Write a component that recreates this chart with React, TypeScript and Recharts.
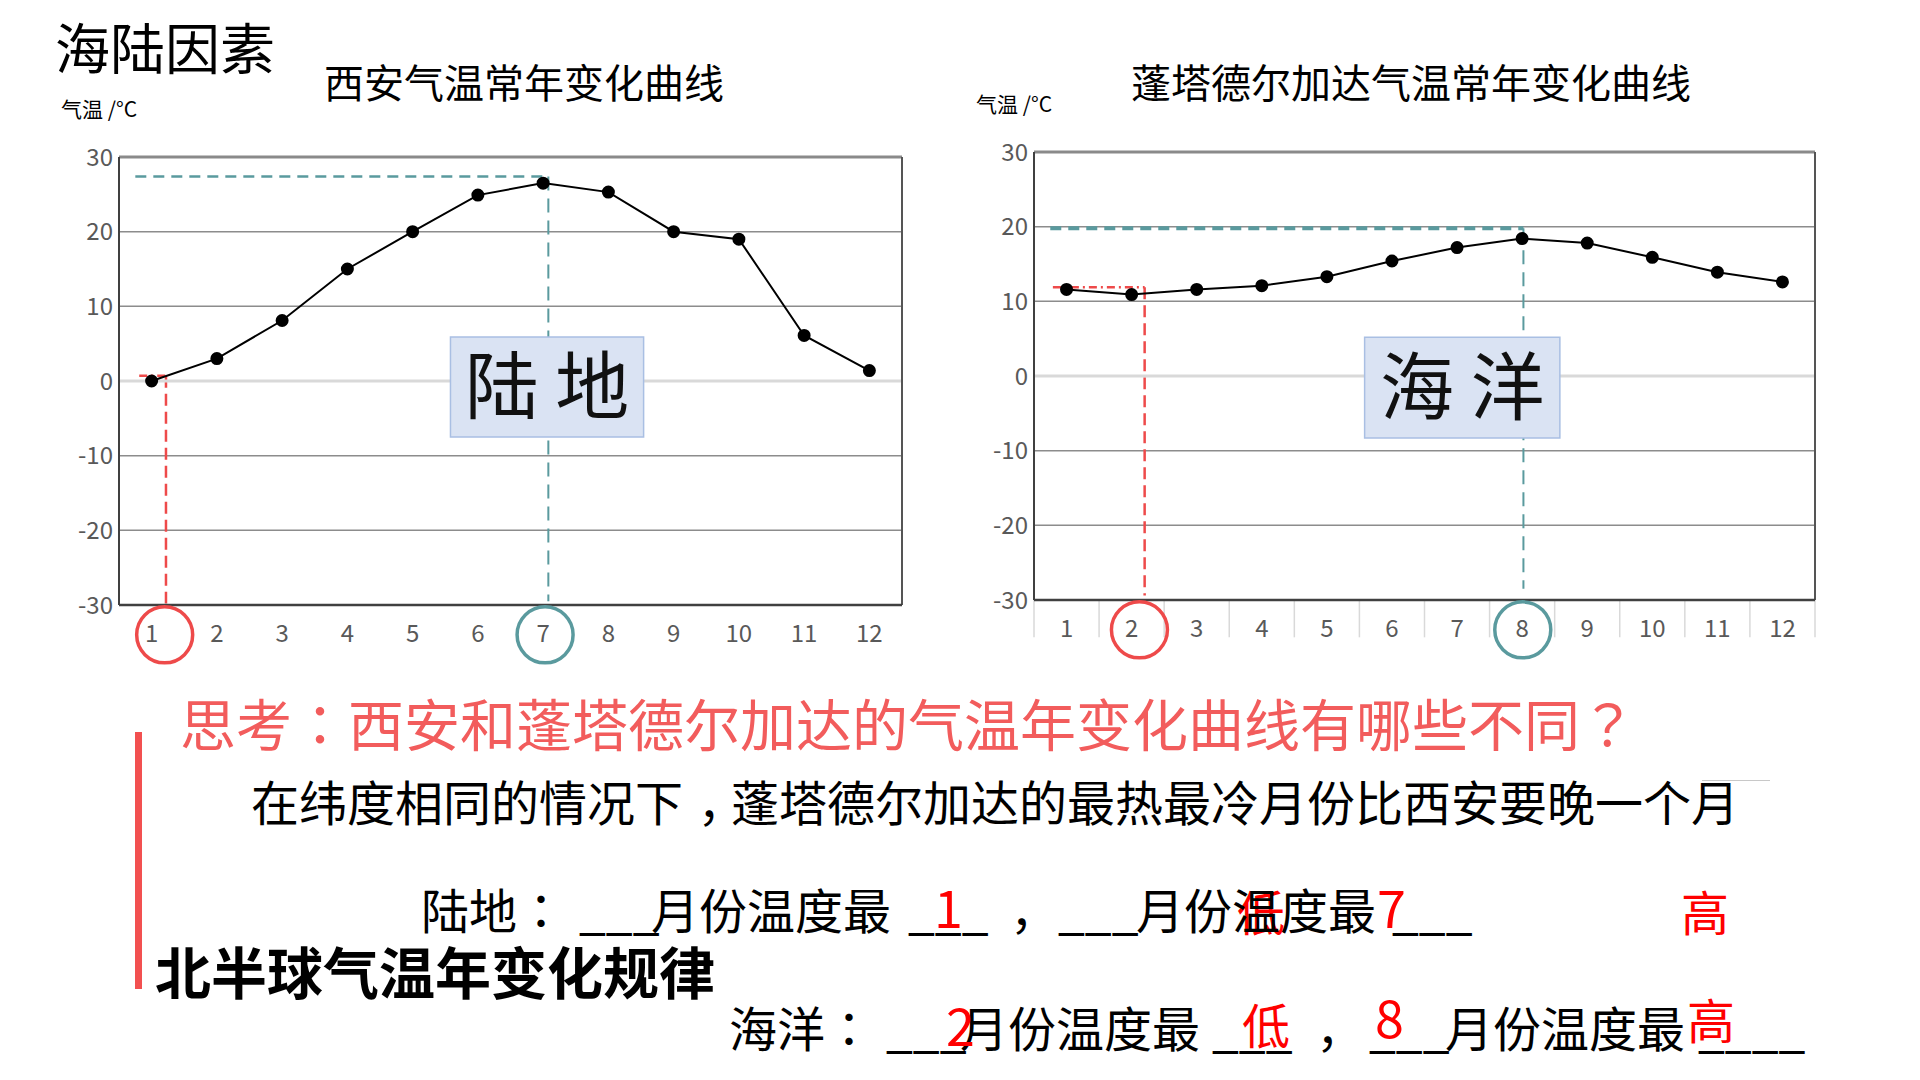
import React from 'react';
import {
  CartesianGrid,
  Line,
  LineChart,
  ReferenceArea,
  ReferenceDot,
  ReferenceLine,
  XAxis,
  YAxis,
} from 'recharts';

const FONT = '"Noto Sans CJK SC", "Noto Sans", sans-serif';
const PUNC_FONT = '"Noto Sans CJK TC", "Noto Sans CJK SC", sans-serif';

// monthly mean temperatures
const months = [1, 2, 3, 4, 5, 6, 7, 8, 9, 10, 11, 12];
const xianTemps = [0, 3, 8.1, 15, 20, 24.9, 26.5, 25.3, 20, 19, 6.1, 1.4];
const pontaTemps = [11.6, 10.9, 11.6, 12.1, 13.3, 15.4, 17.2, 18.4, 17.8, 15.9, 13.9, 12.6];
const tempTicks = [-30, -20, -10, 0, 10, 20, 30];
const monthEdges = [0.5, 1.5, 2.5, 3.5, 4.5, 5.5, 6.5, 7.5, 8.5, 9.5, 10.5, 11.5, 12.5];

const TEAL = '#5a9a9e';
const RED = '#ee4a4a';

interface Guide {
  month: number;
  temp: number;
  from: number;
  bottom: number;
}

interface ChartProps {
  temps: number[];
  hot: Guide;
  cold: Guide;
  hotCircle: number;
  coldCircle: number;
  label: string;
  box: { x1: number; x2: number; y1: number; y2: number };
  separators: boolean;
  margin: { top: number; right: number; bottom: number; left: number };
  hotWidth: number;
}

function TempChart({ temps, hot, cold, hotCircle, coldCircle, label, box, separators, margin, hotWidth }: ChartProps) {
  const data = months.map((m, i) => ({ month: m, temp: temps[i] }));
  return (
    <LineChart width={960} height={700} data={data} margin={margin}>
      <CartesianGrid vertical={false} stroke="#8c8c8c" strokeWidth={1.5} />
      <ReferenceLine y={0} stroke="#d9d9d9" strokeWidth={3} />
      <ReferenceLine y={30} stroke="#8a8a8a" strokeWidth={3} />
      <ReferenceLine x={12.5} stroke="#555" strokeWidth={2} />
      {separators &&
        monthEdges.map((e) => (
          <ReferenceLine
            key={e}
            segment={[{ x: e, y: -30 }, { x: e, y: -35 }]}
            stroke="#d9d9d9"
            strokeWidth={1.5}
            ifOverflow="visible"
          />
        ))}
      <XAxis
        type="number"
        dataKey="month"
        domain={[0.5, 12.5]}
        ticks={months}
        allowDataOverflow
        height={40}
        tickLine={false}
        tickSize={6}
        tickMargin={14}
        axisLine={{ stroke: '#404040', strokeWidth: 2.5 }}
        tick={{ fontSize: 24, fill: '#595959', fontFamily: FONT }}
      />
      <YAxis
        domain={[-30, 30]}
        ticks={tempTicks}
        allowDataOverflow
        width={60}
        tickLine={false}
        tickSize={0}
        tickMargin={6}
        axisLine={{ stroke: '#404040', strokeWidth: 2 }}
        tick={{ fontSize: 24, fill: '#595959', fontFamily: FONT }}
      />
      <ReferenceLine
        segment={[{ x: hot.from, y: hot.temp }, { x: hot.month, y: hot.temp }]}
        stroke={TEAL}
        strokeWidth={hotWidth}
        strokeDasharray="11 7"
        ifOverflow="visible"
        zIndex={50}
      />
      <ReferenceLine
        segment={[{ x: hot.month, y: hot.temp }, { x: hot.month, y: hot.bottom }]}
        stroke={TEAL}
        strokeWidth={2}
        strokeDasharray="14 8"
        ifOverflow="visible"
        zIndex={50}
      />
      <ReferenceLine
        segment={[{ x: cold.from, y: cold.temp }, { x: cold.month, y: cold.temp }]}
        stroke={RED}
        strokeWidth={2.5}
        strokeDasharray="8 4 2 4"
        ifOverflow="visible"
        zIndex={50}
      />
      <ReferenceLine
        segment={[{ x: cold.month, y: cold.temp }, { x: cold.month, y: cold.bottom }]}
        stroke={RED}
        strokeWidth={2.5}
        strokeDasharray="12 6"
        ifOverflow="visible"
        zIndex={50}
      />
      <ReferenceArea
        x1={box.x1}
        x2={box.x2}
        y1={box.y1}
        y2={box.y2}
        fill="#dae3f3"
        fillOpacity={1}
        stroke="#a9bfe3"
        strokeWidth={1.5}
        zIndex={450}
        label={{ value: label, position: 'center', fontSize: 74, fill: '#111', fontFamily: FONT }}
      />
      <Line
        type="linear"
        dataKey="temp"
        stroke="#000"
        strokeWidth={2}
        dot={{ r: 5.5, fill: '#000', stroke: '#000' }}
        isAnimationActive={false}
      />
      <ReferenceDot
        x={coldCircle}
        y={-34}
        r={28}
        fill="none"
        stroke={RED}
        strokeWidth={3.5}
        ifOverflow="visible"
      />
      <ReferenceDot
        x={hotCircle}
        y={-34}
        r={28}
        fill="none"
        stroke={TEAL}
        strokeWidth={3.5}
        ifOverflow="visible"
      />
    </LineChart>
  );
}

function T({
  x,
  cy,
  size,
  color = '#000',
  weight = 400,
  font = FONT,
  children,
}: {
  x: number;
  cy: number;
  size: number;
  color?: string;
  weight?: number;
  font?: string;
  children: React.ReactNode;
}) {
  return (
    <div
      style={{
        position: 'absolute',
        left: x,
        top: cy - size * 0.56,
        fontSize: size,
        lineHeight: 1,
        color,
        fontWeight: weight,
        fontFamily: font,
        whiteSpace: 'nowrap',
      }}
    >
      {children}
    </div>
  );
}

// centred full-width colon / question mark
const P = ({ children }: { children: React.ReactNode }) => (
  <span style={{ fontFamily: PUNC_FONT }}>{children}</span>
);

// low comma, nudged towards the middle of its cell
const C = () => <span style={{ position: 'relative', left: '0.3em' }}>，</span>;

export default function App() {
  return (
    <div
      style={{
        position: 'absolute',
        left: 0,
        top: 0,
        width: 1920,
        height: 1080,
        overflow: 'hidden',
        background: '#fff',
      }}
    >
      <div style={{ position: 'absolute', left: 0, top: 0 }}>
        <TempChart
          temps={xianTemps}
          hot={{ month: 7.08, temp: 27.4, from: 0.75, bottom: -29.5 }}
          cold={{ month: 1.22, temp: 0.7, from: 0.81, bottom: -29.8 }}
          hotCircle={7.03}
          coldCircle={1.2}
          label="陆 地"
          box={{ x1: 5.58, x2: 8.54, y1: -7.5, y2: 5.9 }}
          separators={false}
          margin={{ top: 157, right: 58, bottom: 55, left: 59 }}
          hotWidth={2.5}
        />
      </div>
      <div style={{ position: 'absolute', left: 960, top: 0 }}>
        <TempChart
          temps={pontaTemps}
          hot={{ month: 8.02, temp: 19.8, from: 0.75, bottom: -28.5 }}
          cold={{ month: 2.2, temp: 11.9, from: 0.79, bottom: -29.4 }}
          hotCircle={8.01}
          coldCircle={2.12}
          label="海 洋"
          box={{ x1: 5.58, x2: 8.58, y1: -8.3, y2: 5.2 }}
          separators
          margin={{ top: 152, right: 105, bottom: 60, left: 14 }}
          hotWidth={4}
        />
      </div>

      <T x={55} cy={49} size={55}>海陆因素</T>
      <T x={324} cy={83} size={40}>西安气温常年变化曲线</T>
      <T x={1131} cy={83} size={40}>蓬塔德尔加达气温常年变化曲线</T>
      <T x={61} cy={110} size={21}>气温 /°C</T>
      <T x={976} cy={105} size={21}>气温 /°C</T>

      <div
        style={{ position: 'absolute', left: 135, top: 732, width: 7, height: 257, background: '#f25050' }}
      />
      <T x={180} cy={725} size={56} color="#f25c5c">
        思考<P>：</P>西安和蓬塔德尔加达的气温年变化曲线有哪些不同<P>？</P>
      </T>
      <T x={251} cy={803} size={48}>
        在纬度相同的情况下<C />蓬塔德尔加达的最热最冷月份比西安要晚一个月
      </T>
      <div style={{ position: 'absolute', left: 1702, top: 780, width: 68, height: 1, background: '#c8c8c8' }} />

      {/* 陆地 row */}
      <T x={1237} cy={913} size={48} color="#ff0000">低</T>
      <T x={421} cy={911} size={48}>
        陆地<P>：</P>
      </T>
      <T x={579} cy={911} size={48}>___</T>
      <T x={651} cy={911} size={48}>月份温度最</T>
      <T x={908} cy={911} size={48}>___</T>
      <T x={934} cy={909} size={52} color="#ff0000">1</T>
      <T x={1010} cy={911} size={48}>，</T>
      <T x={1058} cy={911} size={48}>___</T>
      <T x={1136} cy={911} size={48}>月份温度最</T>
      <T x={1392} cy={911} size={48}>___</T>
      <T x={1377} cy={909} size={52} color="#ff0000">7</T>
      <T x={1681} cy={913} size={48} color="#ff0000">高</T>

      <T x={155} cy={973} size={56} weight={700}>北半球气温年变化规律</T>

      {/* 海洋 row */}
      <T x={729} cy={1029} size={48}>
        海洋<P>：</P>
      </T>
      <T x={886} cy={1029} size={48}>___</T>
      <T x={960} cy={1029} size={48}>月份温度最</T>
      <T x={946} cy={1027} size={52} color="#ff0000">2</T>
      <T x={1212} cy={1029} size={48}>___</T>
      <T x={1242} cy={1026} size={48} color="#ff0000">低</T>
      <T x={1316} cy={1029} size={48}>，</T>
      <T x={1369} cy={1029} size={48}>___</T>
      <T x={1375} cy={1019} size={52} color="#ff0000">8</T>
      <T x={1445} cy={1029} size={48}>月份温度最</T>
      <T x={1698} cy={1029} size={48}>____</T>
      <T x={1687} cy={1021} size={48} color="#ff0000">高</T>
    </div>
  );
}
